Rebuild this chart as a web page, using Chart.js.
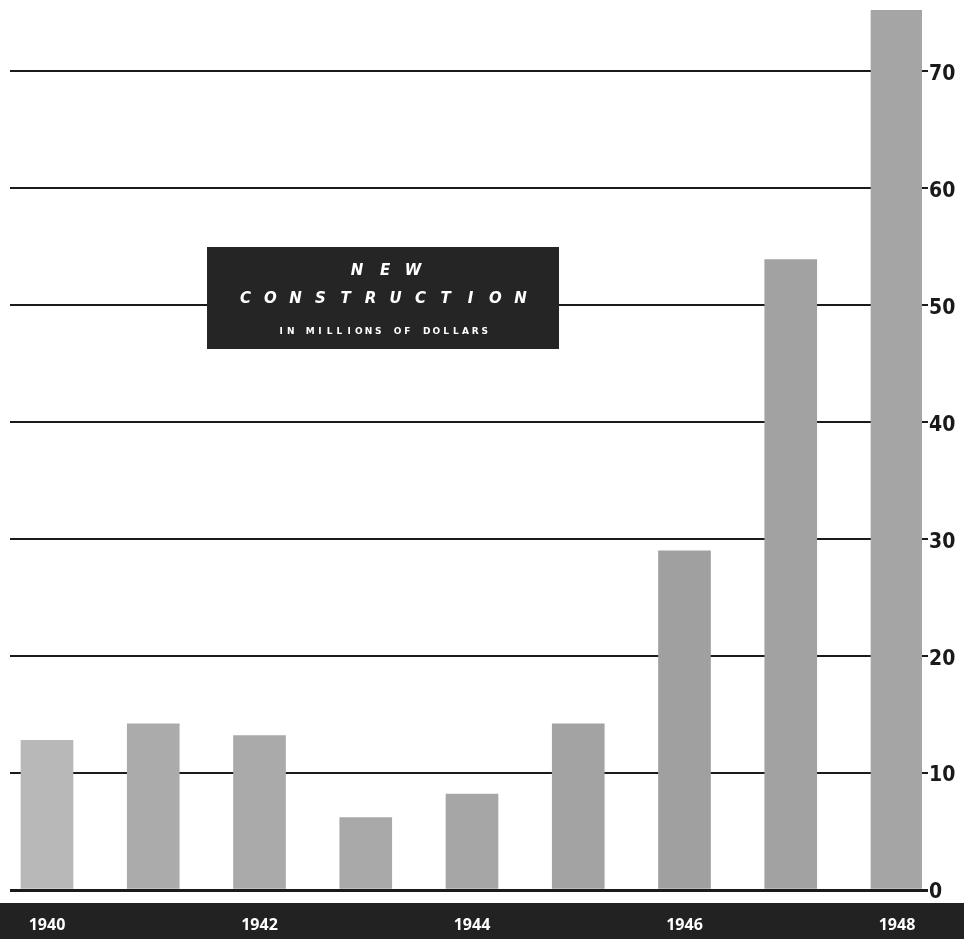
<!DOCTYPE html>
<html>
<head>
<meta charset="utf-8">
<script src="https://cdn.jsdelivr.net/npm/chart.js@4"></script>
<style>
  html, body { margin: 0; padding: 0; background: #fff; }
  canvas { display: block; }
</style>
</head>
<body>
<canvas id="constructionChart" width="964" height="939"></canvas>
<script>
// data
const years = [1940, 1941, 1942, 1943, 1944, 1945, 1946, 1947, 1948];
const construction = [12.8, 14.2, 13.2, 6.2, 8.2, 14.2, 29.0, 53.9, 75.2];
const yearTicks = [1940, 1942, 1944, 1946, 1948];
const valueTicks = [0, 10, 20, 30, 40, 50, 60, 70];

const barColors = ['#b8b8b8', '#ababab', '#aaaaaa', '#a9a9a9', '#a6a6a6', '#a3a3a3', '#a0a0a0', '#a2a2a2', '#a5a5a5'];

// dark strip behind the year labels + title box
const decorations = {
    id: 'decorations',
    beforeDraw(chart) {
        const ctx = chart.ctx;
        ctx.save();
        ctx.fillStyle = '#222';
        ctx.fillRect(0, 903, chart.width, chart.height - 903);
        ctx.restore();
    },
    afterDraw(chart) {
        const ctx = chart.ctx;
        ctx.save();
        ctx.fillStyle = '#252525';
        ctx.fillRect(207, 247, 352, 102);
        ctx.fillStyle = '#fff';
        ctx.textAlign = 'center';
        ctx.textBaseline = 'middle';
        const spaced = (txt, cx, y, pitch) => {
            const n = txt.length;
            for (let i = 0; i < n; i++) {
                ctx.fillText(txt[i], cx + (i - (n - 1) / 2) * pitch, y);
            }
        };
        ctx.font = 'italic bold 15px "DejaVu Sans"';
        spaced('NEW', 385, 271, 28);
        spaced('CONSTRUCTION', 383, 299, 25);
        ctx.font = 'bold 9px "DejaVu Sans"';
        spaced('IN MILLIONS OF DOLLARS', 383, 332, 9.7);
        ctx.restore();
    }
};

const noPad = scale => {
    scale.paddingTop = 0;
    scale.paddingBottom = 0;
    scale.paddingLeft = 0;
    scale.paddingRight = 0;
};

new Chart(document.getElementById('constructionChart').getContext('2d'), {
    type: 'bar',
    data: {
        datasets: [{
            data: years.map((y, i) => ({ x: y, y: construction[i] })),
            backgroundColor: barColors,
            borderWidth: 0,
            barThickness: 52
        }]
    },
    options: {
        responsive: false,
        animation: false,
        layout: { padding: { left: 10, top: 0, right: 0, bottom: 0 } },
        plugins: {
            legend: { display: false },
            tooltip: { enabled: false }
        },
        scales: {
            x: {
                type: 'linear',
                offset: false,
                min: 1939.6518,
                max: 1948.2353,
                afterBuildTicks(scale) {
                    scale.ticks = yearTicks.map(v => ({ value: v }));
                },
                afterFit(scale) { scale.height = 49; noPad(scale); },
                grid: { display: false },
                border: { display: false },
                ticks: {
                    color: '#fff',
                    padding: 18,
                    maxRotation: 0,
                    autoSkip: false,
                    font: { family: '"Open Sans", "DejaVu Sans"', size: 16, weight: 'bold' },
                    callback: v => String(v)
                }
            },
            y: {
                position: 'right',
                min: 0,
                max: 76.09,
                afterBuildTicks(scale) {
                    scale.ticks = valueTicks.map(v => ({ value: v }));
                },
                afterFit(scale) { scale.width = 42; noPad(scale); },
                border: { display: false },
                grid: {
                    color: '#1a1a1a',
                    lineWidth: ctx => (ctx.tick && ctx.tick.value === 0 ? 3 : 2),
                    drawTicks: true,
                    tickLength: 6,
                    tickColor: '#1a1a1a'
                },
                ticks: {
                    color: '#1a1a1a',
                    padding: 1,
                    labelOffset: 3,
                    font: { family: '"DejaVu Sans Condensed", "DejaVu Sans"', size: 21, weight: 'bold' }
                }
            }
        }
    },
    plugins: [decorations]
});
</script>
</body>
</html>
